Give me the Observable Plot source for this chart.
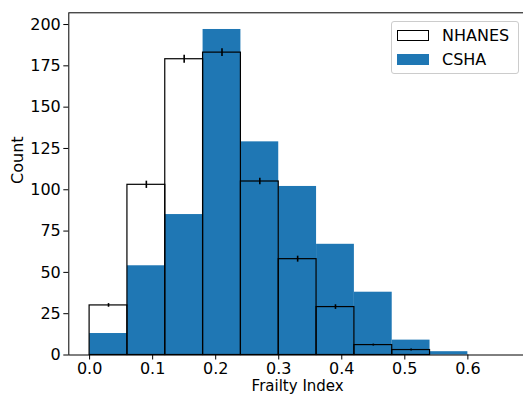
<!DOCTYPE html>
<html>
<head>
<meta charset="utf-8">
<script src="https://cdn.jsdelivr.net/npm/d3@7"></script>
<script src="https://cdn.jsdelivr.net/npm/@observablehq/plot@0.6"></script>
<style>
  html, body { margin: 0; padding: 0; background: #fff; }
  #wrap { position: relative; width: 523px; height: 394px; overflow: hidden; font-family: "DejaVu Sans", sans-serif; }
  #legend {
    position: absolute; left: 391px; top: 21px; width: 126px; height: 51px;
    border: 1px solid #cccccc; border-radius: 3px; background: rgba(255,255,255,0.8);
    font-size: 16px; color: #000;
  }
  .entry { position: absolute; left: 5px; height: 18px; display: flex; align-items: center; }
  .swatch { width: 32px; height: 11px; box-sizing: border-box; margin-right: 13px; }
</style>
</head>
<body>
<div id="wrap">
  <div id="chart"></div>
  <div id="legend"></div>
</div>
<script>
// Histogram bin edges (Frailty Index), width 0.06
const binEdges = [0, 0.06, 0.12, 0.18, 0.24, 0.30, 0.36, 0.42, 0.48, 0.54, 0.60, 0.66];

// Counts per bin for each cohort
const nhanesCounts = [30, 103, 179, 183, 105, 58, 29, 6, 3, 0, 0];
const nhanesErrors = [1.1, 2.2, 2.4, 2.3, 2.0, 1.8, 1.4, 0.6, 0.6, 0, 0];
const cshaCounts = [13, 54, 85, 197, 129, 102, 67, 38, 9, 2, 0];

// Axis ticks
const xTicks = [0, 0.1, 0.2, 0.3, 0.4, 0.5, 0.6];
const yTicks = [0, 25, 50, 75, 100, 125, 150, 175, 200];

// Series names and colours
const seriesNames = ["NHANES", "CSHA"];
const cshaColor = "#1f77b4";

const toRows = (counts, errors) => counts.map((c, i) => ({
  x1: binEdges[i],
  x2: binEdges[i + 1],
  mid: (binEdges[i] + binEdges[i + 1]) / 2,
  count: c,
  err: errors ? errors[i] : 0
}));

const csha = toRows(cshaCounts);
const nhanes = toRows(nhanesCounts, nhanesErrors);

const chart = Plot.plot({
  width: 523,
  height: 394,
  marginLeft: 68.3,
  marginRight: -3,
  marginTop: 12.3,
  marginBottom: 39.5,
  style: { fontFamily: "DejaVu Sans, sans-serif", fontSize: "16px", color: "#000", background: "transparent" },
  x: { domain: [-0.033, 0.693] },
  y: { domain: [0, 207.1] },
  marks: [
    Plot.rectY(csha, { x1: "x1", x2: "x2", y: "count", fill: cshaColor, inset: 0 }),
    Plot.rectY(nhanes, { x1: "x1", x2: "x2", y: "count", fill: "none", stroke: "#000", strokeWidth: 1.2, inset: 0 }),
    Plot.ruleX(nhanes.filter(d => d.err > 0), {
      x: "mid", y1: d => d.count - d.err, y2: d => d.count + d.err, stroke: "#000", strokeWidth: 1.6
    }),
    Plot.frame({ stroke: "#000", strokeWidth: 1 }),
    Plot.axisX({ ticks: xTicks, tickFormat: d3.format(".1f"), tickSize: 5, tickPadding: 3, label: null, fontSize: 16 }),
    Plot.axisY({ ticks: yTicks, tickSize: 5, tickPadding: 3, label: null, fontSize: 16 }),
    Plot.text(["Count"], { text: d => d, frameAnchor: "left", rotate: -90, dx: -51, fontSize: 16 }),
    Plot.text(["Frailty Index"], { text: d => d, frameAnchor: "bottom", lineAnchor: "top", dy: 25.5, fontSize: 15 })
  ]
});
document.getElementById("chart").appendChild(chart);

// Legend
const legend = document.getElementById("legend");
const swatchStyles = [
  { background: "#fff", border: "1px solid #000" },
  { background: cshaColor, border: "none" }
];
seriesNames.forEach((name, i) => {
  const entry = document.createElement("div");
  entry.className = "entry";
  entry.style.top = (i === 0 ? 4 : 28.5) + "px";
  const sw = document.createElement("div");
  sw.className = "swatch";
  Object.assign(sw.style, swatchStyles[i]);
  const label = document.createElement("span");
  label.textContent = name;
  entry.appendChild(sw);
  entry.appendChild(label);
  legend.appendChild(entry);
});
</script>
</body>
</html>
